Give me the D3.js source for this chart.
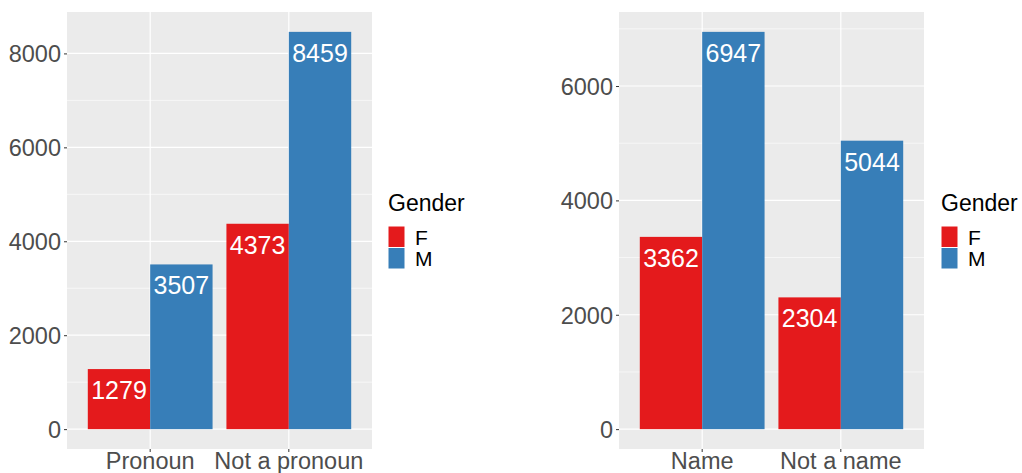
<!DOCTYPE html>
<html>
<head>
<meta charset="utf-8">
<script src="https://cdn.jsdelivr.net/npm/d3@7"></script>
<style>
  body { margin: 0; background: #fff; }
  svg { display: block; font-family: "Liberation Sans", Arial, sans-serif; }
</style>
</head>
<body>
<div id="chart"></div>
<script>
// data
const genders = ["F", "M"];
const genderColors = ["#E41A1C", "#377EB8"];

const pronounCats = ["Pronoun", "Not a pronoun"];
const pronounF = [1279, 4373];
const pronounM = [3507, 8459];
const pronounTicks = [0, 2000, 4000, 6000, 8000];
const pronounMinor = [1000, 3000, 5000, 7000];

const nameCats = ["Name", "Not a name"];
const nameF = [3362, 2304];
const nameM = [6947, 5044];
const nameTicks = [0, 2000, 4000, 6000];
const nameMinor = [1000, 3000, 5000, 7000];

const svg = d3.select("#chart")
    .append("svg")
    .attr("width", 1022)
    .attr("height", 473);

const color = d3.scaleOrdinal().domain(genders).range(genderColors);

function panel(opts) {
    const top = 12, bottom = 449;
    const left = opts.left, right = opts.left + 305;

    const rows = opts.cats.map((c, i) => ({
        cat: c,
        vals: [{ g: "F", v: opts.f[i] }, { g: "M", v: opts.m[i] }]
    }));
    const maxV = d3.max(rows, r => d3.max(r.vals, d => d.v));

    const x = d3.scaleBand()
        .domain(opts.cats)
        .range([left, right])
        .paddingInner(0.1)
        .paddingOuter(0.15);
    const xg = d3.scaleBand().domain(genders).range([0, x.bandwidth()]);

    const y = d3.scaleLinear()
        .domain([-0.05 * maxV, 1.05 * maxV])
        .range([bottom, top]);

    const g = svg.append("g");

    // background
    g.append("rect")
        .attr("x", left).attr("y", top)
        .attr("width", right - left).attr("height", bottom - top)
        .attr("fill", "#EBEBEB");

    // minor grid
    g.selectAll(".minor")
        .data(opts.minor.filter(d => y(d) >= top))
        .join("line")
        .attr("x1", left).attr("x2", right)
        .attr("y1", d => y(d)).attr("y2", d => y(d))
        .attr("stroke", "#fff").attr("stroke-width", 0.6);

    // major grid
    g.selectAll(".major")
        .data(opts.ticks)
        .join("line")
        .attr("x1", left).attr("x2", right)
        .attr("y1", d => y(d)).attr("y2", d => y(d))
        .attr("stroke", "#fff").attr("stroke-width", 1.2);
    g.selectAll(".vmajor")
        .data(opts.cats)
        .join("line")
        .attr("x1", d => x(d) + x.bandwidth() / 2).attr("x2", d => x(d) + x.bandwidth() / 2)
        .attr("y1", top).attr("y2", bottom)
        .attr("stroke", "#fff").attr("stroke-width", 1.2);

    // bars
    const grp = g.selectAll(".grp")
        .data(rows)
        .join("g")
        .attr("transform", d => `translate(${x(d.cat)},0)`);
    grp.selectAll("rect")
        .data(d => d.vals)
        .join("rect")
        .attr("x", d => xg(d.g))
        .attr("width", xg.bandwidth())
        .attr("y", d => y(d.v))
        .attr("height", d => y(0) - y(d.v))
        .attr("fill", d => color(d.g));
    grp.selectAll("text")
        .data(d => d.vals)
        .join("text")
        .attr("x", d => xg(d.g) + xg.bandwidth() / 2)
        .attr("y", d => y(d.v) + 30)
        .attr("text-anchor", "middle")
        .attr("fill", "#fff")
        .style("font-size", "25px")
        .text(d => d.v);

    // y axis
    const yAxis = g.append("g")
        .attr("transform", `translate(${left},0)`)
        .call(d3.axisLeft(y).tickValues(opts.ticks).tickSize(3).tickPadding(3).tickFormat(d3.format("d")));
    yAxis.select(".domain").remove();
    yAxis.selectAll(".tick line").attr("stroke", "#333");
    yAxis.selectAll(".tick text")
        .attr("fill", "#4D4D4D")
        .style("font-size", "23.5px")
        .attr("dy", "0.36em");

    // x axis
    const xAxis = g.append("g")
        .attr("transform", `translate(0,${bottom})`)
        .call(d3.axisBottom(x).tickSize(3).tickPadding(3));
    xAxis.select(".domain").remove();
    xAxis.selectAll(".tick line").attr("stroke", "#333");
    xAxis.selectAll(".tick text")
        .attr("fill", "#4D4D4D")
        .style("font-size", "23.5px")
        .attr("dy", null)
        .attr("y", 20);

    // legend
    const lx = opts.legendX;
    g.append("text")
        .attr("x", lx).attr("y", 211)
        .style("font-size", "23px")
        .attr("fill", "#000")
        .text("Gender");
    const items = g.selectAll(".leg")
        .data(genders)
        .join("g")
        .attr("transform", (d, i) => `translate(${lx},${226 + i * 21.5})`);
    items.append("rect")
        .attr("width", 17).attr("height", 21.5)
        .attr("fill", d => color(d))
        .attr("stroke", "#fff").attr("stroke-width", 1);
    items.append("text")
        .attr("x", 27).attr("y", 18.5)
        .style("font-size", "21px")
        .attr("fill", "#000")
        .text(d => d);
}

panel({ left: 67, cats: pronounCats, f: pronounF, m: pronounM, ticks: pronounTicks, minor: pronounMinor, legendX: 388 });
panel({ left: 619, cats: nameCats, f: nameF, m: nameM, ticks: nameTicks, minor: nameMinor, legendX: 941 });
</script>
</body>
</html>
